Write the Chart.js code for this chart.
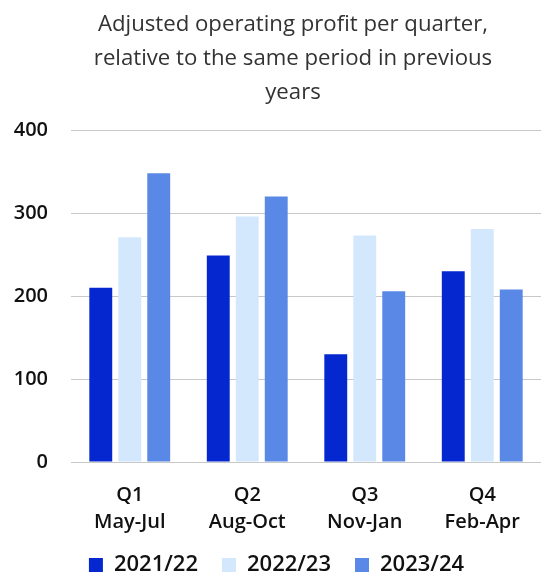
<!DOCTYPE html>
<html>
<head>
<meta charset="utf-8">
<script src="https://cdn.jsdelivr.net/npm/chart.js@4.4.1/dist/chart.umd.min.js"></script>
<style>
    html, body { margin: 0; padding: 0; background: #fff; overflow: hidden; }
    #wrap { width: 541px; height: 572px; }
</style>
</head>
<body>
<div id="wrap"><canvas id="myChart"></canvas></div>
<script>
const quarters = [['Q1', 'May-Jul'], ['Q2', 'Aug-Oct'], ['Q3', 'Nov-Jan'], ['Q4', 'Feb-Apr']];
const seriesNames = ['2021/22', '2022/23', '2023/24'];
const profit2122 = [210, 249, 130, 230];
const profit2223 = [271, 296, 273, 281];
const profit2324 = [348, 320, 206, 208];
const yTicks = [0, 100, 200, 300, 400];
const colors = ['#0527cf', '#d3e8fd', '#5a88e6'];

Chart.defaults.font.family = "'Open Sans', sans-serif";
Chart.defaults.color = '#111';

// title sits a bit left of the plot centre, legend hugs the bottom edge
const nudgeBoxes = {
    id: 'nudgeBoxes',
    afterLayout: function (chart) {
        if (chart.titleBlock) {
            chart.titleBlock.left = 45;
            chart.titleBlock.right = 541;
        }
        if (chart.legend) {
            chart.legend.top -= 6;
            chart.legend.bottom -= 6;
        }
    }
};

const ctx = document.getElementById('myChart').getContext('2d');

let myChart = new Chart(ctx, {
    type: 'bar',
    data: {
        labels: quarters,
        datasets: [profit2122, profit2223, profit2324].map(function (values, i) {
            return {
                label: seriesNames[i],
                data: values,
                backgroundColor: colors[i],
                borderWidth: 0,
                categoryPercentage: 0.74,
                barPercentage: 0.79
            };
        })
    },
    options: {
        responsive: true,
        maintainAspectRatio: false,
        animation: false,
        layout: { padding: { left: 12, right: 0, top: 8, bottom: -20 } },
        plugins: {
            title: {
                display: true,
                fullSize: false,
                text: ['Adjusted operating profit per quarter,', 'relative to the same period in previous', 'years'],
                color: '#333',
                font: { size: 22.2, weight: 'normal', lineHeight: 1.52 },
                padding: { top: 0, bottom: 21 }
            },
            legend: {
                position: 'bottom',
                labels: {
                    boxWidth: 14,
                    boxHeight: 14,
                    padding: 24,
                    font: { size: 22, weight: '600' },
                    color: '#111'
                }
            },
            tooltip: { enabled: false }
        },
        scales: {
            x: {
                grid: { display: false, drawTicks: true, tickLength: 20 },
                border: { display: false },
                ticks: {
                    font: { size: 20, weight: '600', lineHeight: 1.35 },
                    color: '#111',
                    padding: 0,
                    maxRotation: 0
                }
            },
            y: {
                min: 0,
                max: 400,
                afterBuildTicks: function (axis) {
                    axis.ticks = yTicks.map(function (v) { return { value: v }; });
                },
                afterFit: function (axis) {
                    axis.width = 59;
                },
                grid: { color: '#c8c8c8', drawTicks: false, lineWidth: 1 },
                border: { display: false },
                ticks: {
                    font: { size: 20, weight: '600' },
                    color: '#111',
                    padding: 23
                }
            }
        }
    },
    plugins: [nudgeBoxes]
});
</script>
</body>
</html>
